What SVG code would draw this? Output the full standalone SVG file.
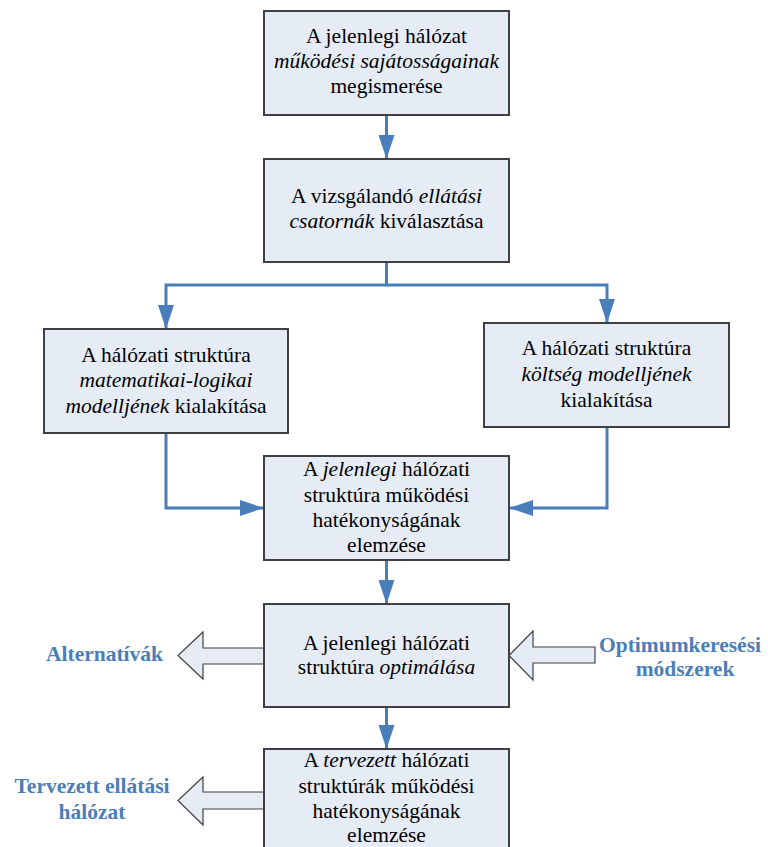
<svg xmlns="http://www.w3.org/2000/svg" width="768" height="847" viewBox="0 0 768 847">
<defs>
<style>
.box{fill:#E6ECF6;stroke:#404040;stroke-width:2}
.blk{fill:#E6ECF6;stroke:#404040;stroke-width:1.2;stroke-linejoin:miter}
.tx{font-family:"Liberation Serif","Times New Roman",serif;font-size:21.5px;fill:#000000;text-anchor:middle}
.it{font-style:italic}
.lbl{font-family:"Liberation Serif","Times New Roman",serif;font-size:21.5px;font-weight:bold;fill:#4A7EBB;text-anchor:middle}
.ln{fill:none;stroke:#4A7EBB;stroke-width:3}
</style>
<marker id="ah" viewBox="0 0 24 16" refX="24" refY="8" markerWidth="24" markerHeight="16" markerUnits="userSpaceOnUse" orient="auto">
<path d="M0,0 L24,8 L0,16 Z" fill="#4A7EBB"/>
</marker>
</defs>
<rect width="768" height="847" fill="#ffffff"/>

<g id="connectors">
<path class="ln" d="M386.5,115 V159" marker-end="url(#ah)"/>
<path class="ln" d="M386.5,262 V285 H166 V329" marker-end="url(#ah)"/>
<path class="ln" d="M386.5,285 H607 V323" marker-end="url(#ah)"/>
<path class="ln" d="M166,433 V508 H264" marker-end="url(#ah)"/>
<path class="ln" d="M607,427 V508 H509" marker-end="url(#ah)"/>
<path class="ln" d="M386.5,560 V604" marker-end="url(#ah)"/>
<path class="ln" d="M386.5,707 V749" marker-end="url(#ah)"/>
</g>

<g id="arrow-alternativak">
<polygon class="blk" points="264,648 203,648 203,632 178,655.5 203,679 203,664 264,664"/>
<text class="lbl" x="104.5" y="661">Alternatívák</text>
</g>
<g id="arrow-optimum">
<polygon class="blk" points="595,647 533,647 533,631 509,655.5 533,680 533,663 595,663"/>
<text class="lbl" x="680" y="652">Optimumkeresési</text>
<text class="lbl" x="685" y="676">módszerek</text>
</g>
<g id="arrow-tervezett">
<polygon class="blk" points="264,792 203,792 203,777 178,800.5 203,825 203,809 264,809"/>
<text class="lbl" x="92" y="793">Tervezett ellátási</text>
<text class="lbl" x="92" y="819">hálózat</text>
</g>

<g font-family="'Liberation Serif', 'Times New Roman', serif" font-size="21.5" text-anchor="middle">
<g id="n1">
<rect class="box" x="264" y="11" width="245" height="104"/>
<text class="tx" x="386.5" y="43" font-family="Liberation Serif, serif">A jelenlegi hálózat</text>
<text class="tx it" x="386.5" y="68" font-family="Liberation Serif, serif" font-style="italic">működési sajátosságainak</text>
<text class="tx" x="386.5" y="93" font-family="Liberation Serif, serif">megismerése</text>
</g>
<g id="n2">
<rect class="box" x="264" y="159" width="245" height="103"/>
<text class="tx" x="386.5" y="203" font-family="Liberation Serif, serif">A vizsgálandó <tspan font-style="italic">ellátási</tspan></text>
<text class="tx" x="386.5" y="228" font-family="Liberation Serif, serif"><tspan font-style="italic">csatornák</tspan> kiválasztása</text>
</g>
<g id="n3">
<rect class="box" x="44" y="329" width="244" height="104"/>
<text class="tx" x="166" y="362" font-family="Liberation Serif, serif">A hálózati struktúra</text>
<text class="tx" x="166" y="387" font-family="Liberation Serif, serif" font-style="italic">matematikai-logikai</text>
<text class="tx" x="166" y="413" font-family="Liberation Serif, serif"><tspan font-style="italic">modelljének</tspan> kialakítása</text>
</g>
<g id="n4">
<rect class="box" x="484" y="323" width="245" height="104"/>
<text class="tx" x="606.5" y="355" font-family="Liberation Serif, serif">A hálózati struktúra</text>
<text class="tx" x="606.5" y="381" font-family="Liberation Serif, serif" font-style="italic">költség modelljének</text>
<text class="tx" x="606.5" y="407" font-family="Liberation Serif, serif">kialakítása</text>
</g>
<g id="n5">
<rect class="box" x="264" y="456" width="245" height="104"/>
<text class="tx" x="386.5" y="476" font-family="Liberation Serif, serif">A <tspan font-style="italic">jelenlegi</tspan> hálózati</text>
<text class="tx" x="386.5" y="502" font-family="Liberation Serif, serif">struktúra működési</text>
<text class="tx" x="386.5" y="527" font-family="Liberation Serif, serif">hatékonyságának</text>
<text class="tx" x="386.5" y="552" font-family="Liberation Serif, serif">elemzése</text>
</g>
<g id="n6">
<rect class="box" x="264" y="604" width="245" height="103"/>
<text class="tx" x="386.5" y="650" font-family="Liberation Serif, serif">A jelenlegi hálózati</text>
<text class="tx" x="386.5" y="674" font-family="Liberation Serif, serif">struktúra <tspan font-style="italic">optimálása</tspan></text>
</g>
<g id="n7">
<rect class="box" x="264" y="749" width="245" height="110"/>
<text class="tx" x="386.5" y="767" font-family="Liberation Serif, serif">A <tspan font-style="italic">tervezett</tspan> hálózati</text>
<text class="tx" x="386.5" y="793" font-family="Liberation Serif, serif">struktúrák működési</text>
<text class="tx" x="386.5" y="818" font-family="Liberation Serif, serif">hatékonyságának</text>
<text class="tx" x="386.5" y="842" font-family="Liberation Serif, serif">elemzése</text>
</g>
</g>
</svg>
